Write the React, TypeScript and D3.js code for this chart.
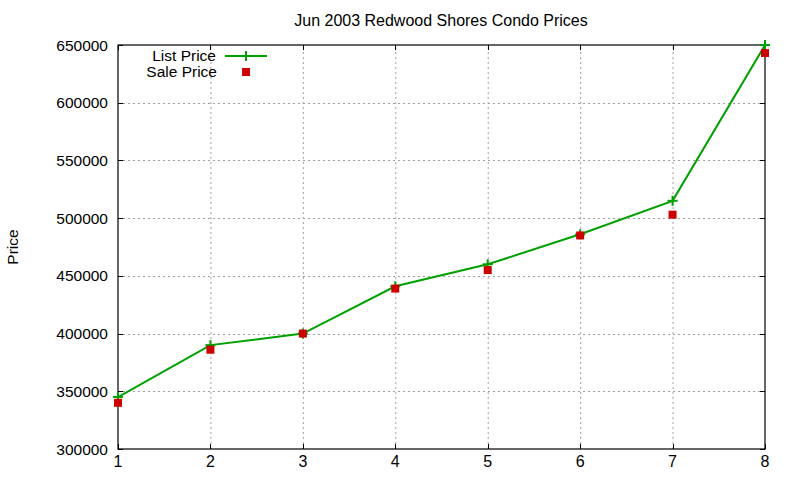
import React, { useEffect, useRef } from 'react';
import * as d3 from 'd3';

const units: number[] = [1, 2, 3, 4, 5, 6, 7, 8];
const listPrice: number[] = [345000, 390000, 400000, 441000, 460000, 486000, 515000, 650000];
const salePrice: number[] = [340000, 386000, 400000, 439000, 455000, 485000, 503000, 643000];
const yTicks: number[] = [300000, 350000, 400000, 450000, 500000, 550000, 600000, 650000];

const App: React.FC = () => {
  const chartRef = useRef<SVGSVGElement | null>(null);

  useEffect(() => {
    if (!chartRef.current) return;

    const width = 800;
    const height = 480;
    const margin = { top: 45, right: 35, bottom: 31, left: 118 };
    const font = '"Liberation Sans", Arial, sans-serif';
    const green = '#00a000';
    const red = '#cc0000';

    d3.select(chartRef.current).selectAll('*').remove();

    const svg = d3
      .select(chartRef.current)
      .attr('width', width)
      .attr('height', height)
      .style('position', 'absolute')
      .style('left', '0px')
      .style('top', '0px')
      .style('background', '#fff');

    const x = d3
      .scaleLinear()
      .domain([1, 8])
      .range([margin.left, width - margin.right]);

    const y = d3
      .scaleLinear()
      .domain([300000, 650000])
      .range([height - margin.bottom, margin.top]);

    // Grid
    const grid = svg.append('g').attr('stroke', '#a0a0a0').attr('stroke-dasharray', '2,3');
    grid
      .selectAll('.gx')
      .data(units.slice(1, -1))
      .enter()
      .append('line')
      .attr('x1', (d) => x(d) + 0.5)
      .attr('x2', (d) => x(d) + 0.5)
      .attr('y1', y(300000))
      .attr('y2', y(650000));
    grid
      .selectAll('.gy')
      .data(yTicks.slice(1, -1))
      .enter()
      .append('line')
      .attr('x1', x(1))
      .attr('x2', x(8))
      .attr('y1', (d) => Math.round(y(d)) + 0.5)
      .attr('y2', (d) => Math.round(y(d)) + 0.5);

    // Ticks, inward on all four sides
    const tickLen = 5;
    const ticks = svg.append('g').attr('stroke', '#000');
    yTicks.forEach((t) => {
      const yy = Math.round(y(t)) + 0.5;
      ticks.append('line').attr('x1', x(1)).attr('x2', x(1) + tickLen).attr('y1', yy).attr('y2', yy);
      ticks.append('line').attr('x1', x(8)).attr('x2', x(8) - tickLen).attr('y1', yy).attr('y2', yy);
    });
    units.forEach((u) => {
      const xx = Math.round(x(u)) + 0.5;
      ticks.append('line').attr('x1', xx).attr('x2', xx).attr('y1', y(300000)).attr('y2', y(300000) - tickLen);
      ticks.append('line').attr('x1', xx).attr('x2', xx).attr('y1', y(650000)).attr('y2', y(650000) + tickLen);
    });

    // Frame
    svg
      .append('rect')
      .attr('x', x(1))
      .attr('y', y(650000))
      .attr('width', x(8) - x(1))
      .attr('height', y(300000) - y(650000))
      .attr('fill', 'none')
      .attr('stroke', '#000')
      .attr('stroke-width', 1.2);

    // Tick labels
    svg
      .append('g')
      .selectAll('text')
      .data(yTicks)
      .enter()
      .append('text')
      .attr('x', x(1) - 10)
      .attr('y', (d) => y(d) + 5.5)
      .attr('text-anchor', 'end')
      .style('font-family', font)
      .style('font-size', '15.5px')
      .text((d) => String(d));

    svg
      .append('g')
      .selectAll('text')
      .data(units)
      .enter()
      .append('text')
      .attr('x', (d) => x(d))
      .attr('y', y(300000) + 18)
      .attr('text-anchor', 'middle')
      .style('font-family', font)
      .style('font-size', '16px')
      .text((d) => String(d));

    // Title
    svg
      .append('text')
      .attr('x', 441)
      .attr('y', 26)
      .attr('text-anchor', 'middle')
      .style('font-family', font)
      .style('font-size', '16px')
      .text('Jun 2003 Redwood Shores Condo Prices');

    // Y axis label
    svg
      .append('text')
      .attr('transform', `translate(18, ${(y(300000) + y(650000)) / 2}) rotate(-90)`)
      .attr('text-anchor', 'middle')
      .style('font-family', font)
      .style('font-size', '15.5px')
      .text('Price');

    // List price line
    const line = d3
      .line<number>()
      .x((_, i) => x(units[i]))
      .y((d) => y(d));

    svg
      .append('path')
      .datum(listPrice)
      .attr('d', line)
      .attr('fill', 'none')
      .attr('stroke', green)
      .attr('stroke-width', 2);

    const plusSize = 5;
    const plus = (g: d3.Selection<SVGGElement, unknown, null, undefined>, cx: number, cy: number) => {
      g.append('line').attr('x1', cx - plusSize).attr('x2', cx + plusSize).attr('y1', cy).attr('y2', cy);
      g.append('line').attr('x1', cx).attr('x2', cx).attr('y1', cy - plusSize).attr('y2', cy + plusSize);
    };

    const plusGroup = svg.append('g').attr('stroke', green).attr('stroke-width', 2);
    listPrice.forEach((v, i) => plus(plusGroup, x(units[i]), y(v)));

    // Sale price squares
    const sq = 8;
    svg
      .append('g')
      .selectAll('rect')
      .data(salePrice)
      .enter()
      .append('rect')
      .attr('x', (_, i) => x(units[i]) - sq / 2)
      .attr('y', (d) => y(d) - sq / 2)
      .attr('width', sq)
      .attr('height', sq)
      .attr('fill', red);

    // Legend
    const legend = svg.append('g');
    legend
      .append('text')
      .attr('x', 216)
      .attr('y', 61)
      .attr('text-anchor', 'end')
      .style('font-family', font)
      .style('font-size', '15.5px')
      .text('List Price');
    legend
      .append('line')
      .attr('x1', 225)
      .attr('x2', 267)
      .attr('y1', 56)
      .attr('y2', 56)
      .attr('stroke', green)
      .attr('stroke-width', 2);
    const legendPlus = legend.append('g').attr('stroke', green).attr('stroke-width', 2);
    plus(legendPlus, 246, 56);

    legend
      .append('text')
      .attr('x', 217)
      .attr('y', 77)
      .attr('text-anchor', 'end')
      .style('font-family', font)
      .style('font-size', '15.5px')
      .text('Sale Price');
    legend
      .append('rect')
      .attr('x', 246 - sq / 2)
      .attr('y', 72 - sq / 2)
      .attr('width', sq)
      .attr('height', sq)
      .attr('fill', red);
  }, []);

  return <svg ref={chartRef}></svg>;
};

export default App;
